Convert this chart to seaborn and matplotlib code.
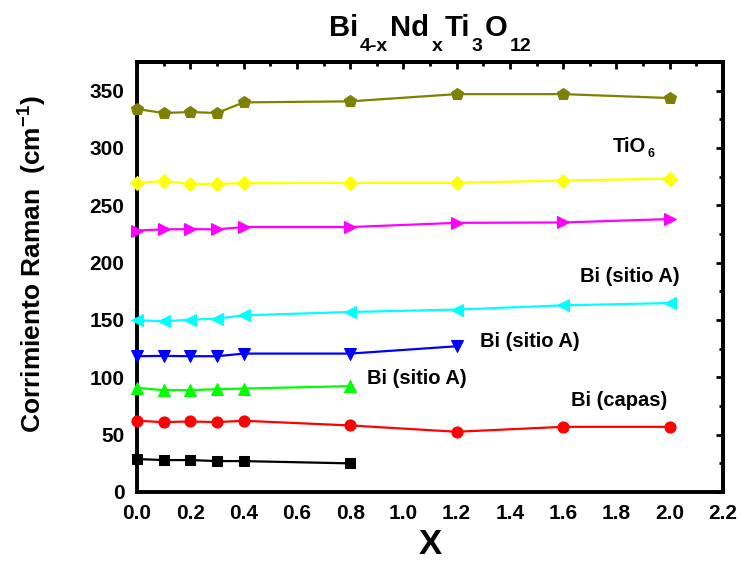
import matplotlib
matplotlib.use("Agg")
import matplotlib.pyplot as plt
import seaborn as sns
import pandas as pd
from matplotlib.ticker import MultipleLocator
from matplotlib.transforms import IdentityTransform

sns.set_theme(style="white")
plt.rcParams["font.family"] = ["Liberation Sans", "DejaVu Sans"]
plt.rcParams["font.weight"] = "bold"
plt.rcParams["text.color"] = "black"
plt.rcParams["axes.labelcolor"] = "black"
plt.rcParams["xtick.color"] = "black"
plt.rcParams["ytick.color"] = "black"
plt.rcParams["mathtext.fontset"] = "custom"
plt.rcParams["mathtext.rm"] = "Liberation Sans:bold"
plt.rcParams["mathtext.it"] = "Liberation Sans:bold"
plt.rcParams["mathtext.bf"] = "Liberation Sans:bold"

# Nd content
x_full = [0.0, 0.1, 0.2, 0.3, 0.4, 0.8, 1.2, 1.6, 2.0]
x_08 = [0.0, 0.1, 0.2, 0.3, 0.4, 0.8]
x_12 = [0.0, 0.1, 0.2, 0.3, 0.4, 0.8, 1.2]

# Raman shift of each mode (cm^-1)
mode_black = [28.6, 27.7, 27.7, 26.8, 26.8, 24.8]
mode_red = [62.0, 60.8, 61.4, 60.8, 62.0, 57.9, 52.4, 56.7, 56.7]
mode_green = [90.7, 88.7, 88.7, 89.5, 90.1, 92.2]
mode_blue = [118.3, 118.6, 118.3, 118.3, 120.6, 120.6, 127.0]
mode_cyan = [149.7, 148.8, 150.2, 151.1, 154.0, 156.9, 159.0, 162.7, 164.7]
mode_magenta = [228.0, 229.0, 229.2, 229.0, 231.0, 231.0, 234.7, 235.0, 238.0]
mode_yellow = [269.6, 271.0, 268.7, 268.7, 269.3, 269.6, 269.6, 271.6, 273.3]
mode_olive = [334.0, 330.5, 331.4, 330.5, 339.8, 340.7, 347.0, 347.0, 343.6]

series = [
    (x_08, mode_black, "black", "s", 6.5),
    (x_full, mode_red, "red", "o", 8),
    (x_08, mode_green, "#00ff00", "^", 9),
    (x_12, mode_blue, "blue", "v", 9),
    (x_full, mode_cyan, "cyan", "<", 9),
    (x_full, mode_magenta, "magenta", ">", 9),
    (x_full, mode_yellow, "yellow", "D", 7.5),
    (x_full, mode_olive, "#808000", "p", 9),
]

# mode assignments
labels_bi = [
    ("Bi (sitio A)", 1.663, 183.0),
    ("Bi (sitio A)", 1.288, 126.4),
    ("Bi (sitio A)", 0.862, 94.5),
    ("Bi (capas)", 1.628, 75.0),
]
label_tio = ("TiO", "6", 1.787, 296.2)

fig = plt.figure(figsize=(7.41, 5.64), dpi=100)
ax = fig.add_axes([0.185, 0.128, 0.7907, 0.762])

for xs, ys, color, marker, ms in series:
    df = pd.DataFrame({"x": xs, "y": ys})
    sns.lineplot(data=df, x="x", y="y", ax=ax, color=color, marker=marker,
                 markersize=ms, markeredgecolor=color, linewidth=1.6,
                 clip_on=False, zorder=3)

for text, tx, ty in labels_bi:
    ax.text(tx, ty, text, fontsize=14.5, fontweight="bold", ha="left",
            va="baseline", color="black")
tio = ax.text(label_tio[2], label_tio[3], label_tio[0], fontsize=14.5,
              fontweight="bold", ha="left", va="baseline", color="black")
ax.annotate(label_tio[1], xy=(1, 0), xycoords=tio, xytext=(0.8, -2.4),
            textcoords="offset points", fontsize=9, fontweight="bold",
            ha="left", va="bottom", color="black")

ax.set_xlim(0, 2.2)
ax.set_ylim(0, 375)
ax.xaxis.set_major_locator(MultipleLocator(0.2))
ax.xaxis.set_minor_locator(MultipleLocator(0.1))
ax.yaxis.set_major_locator(MultipleLocator(50))
ax.yaxis.set_minor_locator(MultipleLocator(25))
ax.xaxis.set_major_formatter(lambda v, pos: f"{v:.1f}")
ax.yaxis.set_major_formatter(lambda v, pos: f"{v:.0f}")
ax.tick_params(which="both", direction="out", width=2.0, colors="black",
               labelcolor="black", labelsize=15, pad=4)
ax.tick_params(which="major", length=5)
ax.tick_params(which="minor", length=3)
for lab in ax.get_xticklabels() + ax.get_yticklabels():
    lab.set_fontweight("bold")

# mirrored axes on top and right with inward ticks
top = ax.secondary_xaxis("top")
top.xaxis.set_major_locator(MultipleLocator(0.2))
top.xaxis.set_minor_locator(MultipleLocator(0.1))
top.tick_params(which="both", direction="in", width=2.0, labeltop=False)
top.tick_params(which="major", length=5)
top.tick_params(which="minor", length=3)
right = ax.secondary_yaxis("right")
right.yaxis.set_major_locator(MultipleLocator(50))
right.yaxis.set_minor_locator(MultipleLocator(25))
right.tick_params(which="both", direction="in", width=2.0, labelright=False)
right.tick_params(which="major", length=5)
right.tick_params(which="minor", length=3)
for sp in list(ax.spines.values()) + [top.spines["top"], right.spines["right"]]:
    sp.set_linewidth(2.8)
    sp.set_color("black")

ax.set_xlabel("X", fontsize=25, fontweight="bold", color="black")
ax.xaxis.set_label_coords(0.5, -0.085)
ax.set_ylabel("Corrimiento Raman  (cm$^{-1}$)", fontsize=19,
              fontweight="bold", color="black")
ax.yaxis.set_label_coords(-0.151, 0.53)

# title with chemical subscripts, laid out piece by piece in pixels
title_pieces = [
    ("Bi", 21, 0), ("4-x", 14, -15),
    ("Nd", 21, 0), ("x", 14, -15),
    ("Ti", 21, 0), ("3", 14, -15),
    ("O", 21, 0), ("12", 14, -15),
]
piece_gap = 2
fig.canvas.draw()
renderer = fig.canvas.get_renderer()
fig_h = fig.get_figheight() * fig.dpi
baseline = fig_h - 36
ax_box = ax.get_window_extent(renderer)
center_x = ax_box.x0 + ax_box.width / 2
title_texts = []
widths = []
for s, size, dy in title_pieces:
    t = fig.text(0, baseline + dy, s, fontsize=size, fontweight="bold",
                 ha="left", va="baseline", color="black",
                 transform=IdentityTransform())
    widths.append(t.get_window_extent(renderer).width)
    title_texts.append(t)
pos = center_x - (sum(widths) + piece_gap * (len(widths) - 1)) / 2
for t, w in zip(title_texts, widths):
    t.set_x(pos)
    pos += w + piece_gap

fig.savefig("out.png", dpi=100)
